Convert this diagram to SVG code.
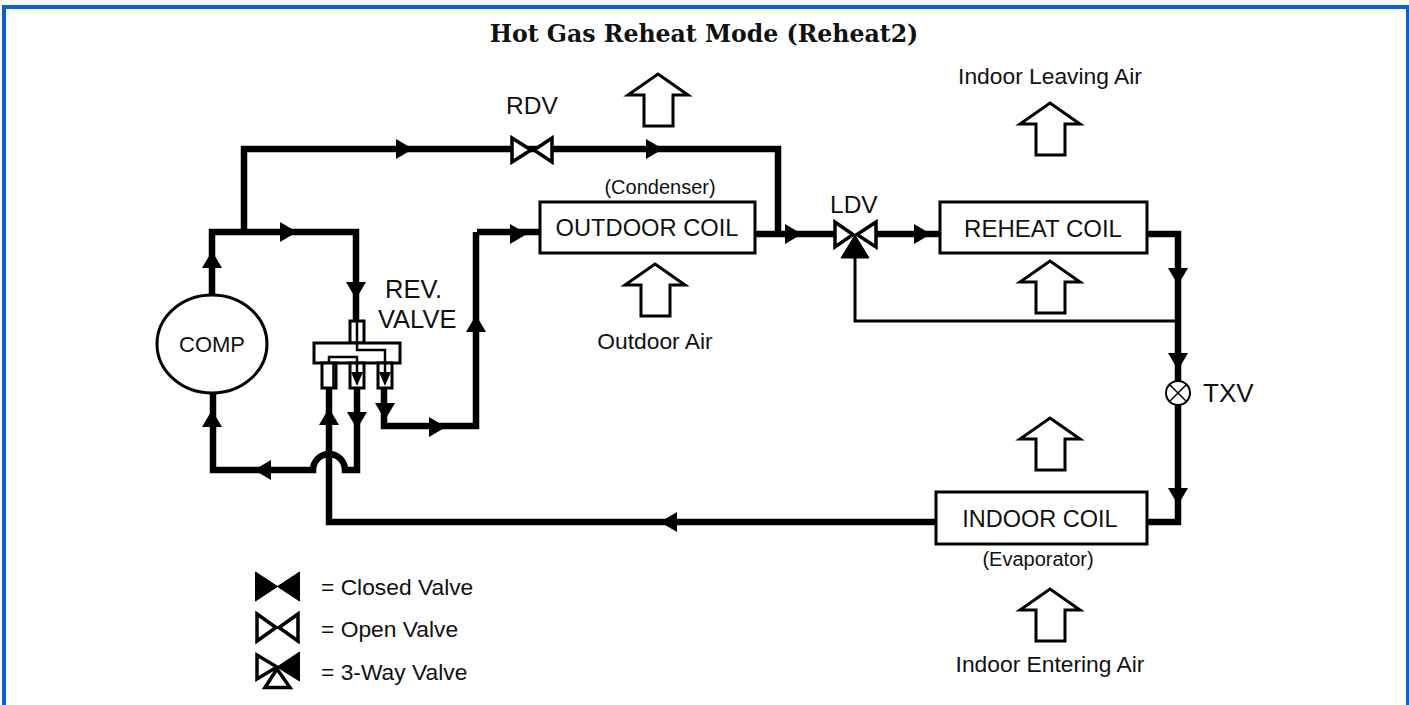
<svg xmlns="http://www.w3.org/2000/svg" width="1409" height="705" viewBox="0 0 1409 705">
<style>
text{font-family:"Liberation Sans",Arial,sans-serif;fill:#111}
.t{font-size:24px}
.s{font-size:20px}
.l{font-size:22.8px}
.title{font-family:"DejaVu Serif",serif;font-weight:bold;font-size:23.6px;text-anchor:middle}
.m{text-anchor:middle}
.pipe{fill:none;stroke:#000;stroke-width:6.5;stroke-linejoin:miter}
.thin{fill:none;stroke:#000;stroke-width:3}
.box{fill:#fff;stroke:#000;stroke-width:3}
.air{fill:#fff;stroke:#000;stroke-width:3}
.solid{fill:#000;stroke:none}
.v{fill:#fff;stroke:#000;stroke-width:3.5;stroke-linejoin:miter}
.vc{fill:#000;stroke:#000;stroke-width:1}
</style>
<defs>
<path id="up" class="air" d="M0 0L30 21H15V52H-14V21H-30Z"/>
<path id="ar" class="solid" d="M0 -10L17 0L0 10Z"/>
<path id="ad" class="solid" d="M-10 0L10 0L0 17Z"/>
<path id="au" class="solid" d="M-10 17L10 17L0 0Z"/>
<path id="al" class="solid" d="M17 -10L17 10L0 0Z"/>
</defs>
<path id="frame" d="M2 705V5H1409V705H1406V9H6V705Z" fill="#0a64c8"/>
<text class="title" x="704" y="42">Hot Gas Reheat Mode (Reheat2)</text>
<g id="connectors">
<path class="pipe" d="M244 232V149H511M553 149H778V233"/>
<path class="pipe" d="M212 296V232H356V320"/>
<path class="pipe" d="M755 234H835M877 234H940"/>
<path class="pipe" d="M477 232H540M476 232V426H384V388"/>
<path class="pipe" d="M1147 234H1178V381M1178 405V522H1147"/>
<path class="pipe" d="M936 522H329V388"/>
<path class="pipe" d="M357 388V470H345A16 16 0 0 0 313 470H213V392"/>
<path class="thin" d="M855 258V321H1178"/>
<use href="#ar" x="396" y="149"/>
<use href="#ar" x="646" y="149"/>
<use href="#ar" x="280" y="232"/>
<use href="#ar" x="510" y="234"/>
<use href="#ar" x="785" y="234"/>
<use href="#ar" x="914" y="234"/>
<use href="#ar" x="429" y="427"/>
<use href="#au" x="212" y="251"/>
<use href="#au" x="212" y="410"/>
<use href="#au" x="329" y="408"/>
<use href="#au" x="476" y="315"/>
<use href="#ad" x="356" y="282"/>
<use href="#ad" x="357" y="412"/>
<use href="#ad" x="385" y="403"/>
<use href="#ad" x="1178" y="268"/>
<use href="#ad" x="1178" y="353"/>
<use href="#ad" x="1178" y="488"/>
<use href="#al" x="254" y="470"/>
<use href="#al" x="660" y="522"/>
</g>
<g id="comp"><ellipse class="box" cx="212" cy="344" rx="55" ry="49"/><text class="m" style="font-size:22px" x="212" y="352">COMP</text></g>
<g id="rev-valve">
<rect class="box" x="350" y="321" width="14" height="22"/>
<rect class="box" x="314" y="343" width="86" height="20"/>
<rect class="box" x="322" y="363" width="14" height="25"/>
<rect class="box" x="350" y="363" width="14" height="25"/>
<rect class="box" x="378" y="363" width="14" height="25"/>
<path class="thin" d="M357 321V350H385V363M329 363V357H357V363M357 363V380M385 363V380M333.500 363V388" style="stroke-width:2.500"/>
<path class="solid" d="M351 372L363 372L357 386ZM379 372L391 372L385 386Z"/>
<text style="font-size:25.5px" x="385" y="298">REV.</text>
<text style="font-size:25.5px" x="378" y="328">VALVE</text>
</g>
<g id="rdv"><path class="pipe" d="M511 149H553"/><path class="v" d="M512 138V162L531 150Z"/><path class="v" d="M552 138V162L534 150Z"/><text style="font-size:24.5px" x="506" y="114">RDV</text></g>
<g id="ldv"><path class="v" d="M835 222V247L853 234.500Z"/><path class="v" d="M876 222V247L857 234.500Z"/><path class="vc" d="M855 235L869 258H841Z"/><text style="font-size:24.5px" x="830" y="213">LDV</text></g>
<g id="txv"><circle cx="1178" cy="393" r="12" fill="#fff" stroke="#000" stroke-width="2"/><path d="M1170 385L1186 401M1186 385L1170 401" stroke="#000" stroke-width="1.5"/><text x="1203" y="402" style="font-size:26px">TXV</text></g>
<g id="outdoor-coil"><rect class="box" x="540" y="202" width="215" height="51"/><text class="m" style="font-size:23.7px" x="647" y="236">OUTDOOR COIL</text><text class="s m" x="660" y="194">(Condenser)</text></g>
<g id="reheat-coil"><rect class="box" x="940" y="202" width="207" height="51"/><text class="t m" x="1043" y="237">REHEAT COIL</text></g>
<g id="indoor-coil"><rect class="box" x="936" y="492" width="211" height="52"/><text class="m" style="font-size:23.5px" x="1040" y="527">INDOOR COIL</text><text class="s m" x="1038" y="566">(Evaporator)</text></g>
<g id="air-arrows">
<use href="#up" x="658" y="74"/>
<use href="#up" x="1050" y="103"/>
<use href="#up" x="655" y="264"/>
<use href="#up" x="1050" y="261"/>
<use href="#up" x="1050" y="418"/>
<use href="#up" x="1050" y="589"/>
<text class="l m" x="1050" y="84">Indoor Leaving Air</text>
<text class="l m" x="655" y="349">Outdoor Air</text>
<text class="l m" x="1050" y="672">Indoor Entering Air</text>
</g>
<g id="legend">
<path class="vc" d="M255.500 572V601L299.500 572V601Z"/>
<path class="v" d="M257 614V641L276 627.500Z"/>
<path class="v" d="M298 614V641L279 627.500Z"/>
<path class="v" d="M257 655V679L277 667Z"/>
<path class="vc" d="M299.500 652V681L277 667Z"/>
<path class="v" d="M277 669L290 687.500H265Z"/>
<text class="l" x="321" y="595">= Closed Valve</text>
<text class="l" x="321" y="637">= Open Valve</text>
<text class="l" x="321" y="680">= 3-Way Valve</text>
</g>
</svg>
